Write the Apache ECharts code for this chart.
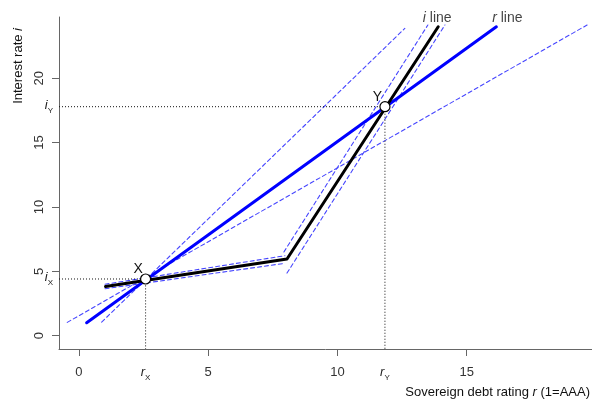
<!DOCTYPE html>
<html><head><meta charset="utf-8">
<script src="https://cdn.jsdelivr.net/npm/echarts@6/dist/echarts.min.js"></script>
<style>html,body{margin:0;padding:0;background:#fff}#c{width:592px;height:406px}</style>
</head><body><div id="c"></div>
<script>
// ---- data ----
const xTicks = [0, 5, 10, 15];
const yTicks = [0, 5, 10, 15, 20];
const eqNames = ['X', 'Y'];
const eqR = [2.58, 11.84];
const eqI = [4.40, 17.79];
const rLineR = [0.30, 16.15];
const rLineI = [1.00, 24.00];
const iLineR = [1.03, 8.05, 13.90];
const iLineI = [3.82, 5.95, 24.00];
const rBandSteepR = [0.88, 12.61];
const rBandSteepI = [1.05, 23.88];
const rBandFlatR = [-0.45, 19.66];
const rBandFlatI = [1.03, 24.14];
const iBand1UpR = [1.01, 7.97];
const iBand1UpI = [3.99, 6.21];
const iBand1LoR = [1.01, 7.97];
const iBand1LoI = [3.64, 5.62];
const iBand2UpR = [7.93, 13.50];
const iBand2UpI = [6.50, 24.14];
const iBand2LoR = [8.05, 14.16];
const iBand2LoI = [4.86, 24.14];
const lineNames = ['i line', 'r line'];
const xMin = -0.77, xMax = 19.85, yMin = -1.04, yMax = 24.76;

// ---- chart ----
const FONT = '"Liberation Sans", Arial, Helvetica, sans-serif';
const pairs = (rs, is) => rs.map((r, k) => [r, is[k]]);
const near = (a, b) => Math.abs(a - b) < 1e-6;
const bandStyle = { color: '#4646ff', width: 1.1, type: [4, 3] };

function lineSeries(data, style, z) {
  return { type: 'line', data, symbol: 'none', showSymbol: false, silent: true,
    lineStyle: Object.assign({ cap: 'round', join: 'round' }, style), z: z || 2, animation: false };
}

const subRich = {
  it: { fontStyle: 'italic', fontSize: 13, color: '#222', fontFamily: FONT, padding: [0, 0, 3, 0] },
  sub: { fontSize: 8, color: '#222', fontFamily: FONT, verticalAlign: 'bottom' }
};

const chart = echarts.init(document.getElementById('c'), null, { renderer: 'canvas' });
const option = {
  animation: false,
  backgroundColor: '#fff',
  textStyle: { fontFamily: FONT },
  grid: { left: 59, right: 0, top: 17, bottom: 57, containLabel: false, outerBoundsMode: 'none' },
  xAxis: [{
    type: 'value', min: xMin, max: xMax,
    axisLine: { show: true, onZero: false, lineStyle: { color: '#666', width: 1 } },
    axisTick: { show: true, length: 7, customValues: xTicks, lineStyle: { color: '#666' } },
    axisLabel: {
      customValues: xTicks.concat(eqR), margin: 17, color: '#333', fontSize: 13, fontFamily: FONT,
      formatter: v => { for (let k = 0; k < eqR.length; k++) if (near(v, eqR[k])) return '{it|r}{sub|' + eqNames[k] + '}'; return String(v); },
      rich: subRich
    },
    splitLine: { show: false }
  }],
  yAxis: [{
    type: 'value', min: yMin, max: yMax,
    axisLine: { show: true, onZero: false, lineStyle: { color: '#666', width: 1 } },
    axisTick: { show: true, length: 7, customValues: yTicks, lineStyle: { color: '#666' } },
    axisLabel: { customValues: yTicks, rotate: 90, margin: 13, color: '#333', fontSize: 13, fontFamily: FONT },
    splitLine: { show: false }
  }, {
    type: 'value', min: yMin, max: yMax, position: 'left', gridIndex: 0,
    axisLine: { show: false, onZero: false }, axisTick: { show: false }, splitLine: { show: false },
    axisLabel: {
      customValues: eqI, margin: 6, color: '#222',
      formatter: v => { for (let k = 0; k < eqI.length; k++) if (near(v, eqI[k])) return '{it|i}{sub|' + eqNames[k] + '}'; return ''; },
      rich: subRich
    }
  }],
  series: [
    lineSeries(pairs(rBandSteepR, rBandSteepI), bandStyle),
    lineSeries(pairs(rBandFlatR, rBandFlatI), bandStyle),
    lineSeries(pairs(iBand1UpR, iBand1UpI), bandStyle),
    lineSeries(pairs(iBand1LoR, iBand1LoI), bandStyle),
    lineSeries(pairs(iBand2UpR, iBand2UpI), bandStyle),
    lineSeries(pairs(iBand2LoR, iBand2LoI), bandStyle),
    lineSeries([[xMin, eqI[0]], [eqR[0], eqI[0]], [eqR[0], yMin]], { color: '#111', width: 1, type: [1, 2], cap: 'butt' }, 3),
    lineSeries([[xMin, eqI[1]], [eqR[1], eqI[1]], [eqR[1], yMin]], { color: '#111', width: 1, type: [1, 2], cap: 'butt' }, 3),
    lineSeries(pairs(rLineR, rLineI), { color: '#0000ff', width: 3 }, 4),
    lineSeries(pairs(iLineR, iLineI), { color: '#000000', width: 3 }, 5),
    {
      type: 'scatter', z: 6, silent: true, animation: false,
      data: eqNames.map((n, k) => ({ name: n, value: [eqR[k], eqI[k]] })),
      symbol: 'circle', symbolSize: 10,
      itemStyle: { color: '#fff', borderColor: '#000', borderWidth: 1.2, opacity: 1 },
      label: { show: true, position: 'inside', offset: [-7.5, -9.5], formatter: p => p.name,
        color: '#111', fontSize: 14, fontFamily: FONT }
    },
    {
      type: 'scatter', z: 7, silent: true, animation: false,
      data: [
        { name: lineNames[0], value: [iLineR[iLineR.length - 1], iLineI[iLineI.length - 1]], label: { offset: [-1, -8.5] } },
        { name: lineNames[1], value: [rLineR[rLineR.length - 1], rLineI[rLineI.length - 1]], label: { offset: [11, -8.5] } }
      ],
      symbol: 'circle', symbolSize: 0,
      itemStyle: { color: 'rgba(0,0,0,0)' },
      label: { show: true, position: 'inside', color: '#111', fontSize: 14, fontFamily: FONT,
        formatter: p => { const parts = p.name.split(' '); return '{it|' + parts[0] + '} ' + parts.slice(1).join(' '); },
        rich: { it: { fontStyle: 'italic', fontSize: 14, color: '#111', fontFamily: FONT } } }
    }
  ],
  graphic: [
    { type: 'text', x: 18.5, y: 28, rotation: Math.PI / 2, silent: true,
      style: { text: '{n|Interest rate }{it|i}', align: 'right', verticalAlign: 'middle',
        rich: { n: { fontSize: 13, fill: '#111', fontFamily: FONT }, it: { fontSize: 13, fill: '#111', fontStyle: 'italic', fontFamily: FONT } } } },
    { type: 'text', x: 590, y: 392, silent: true,
      style: { text: '{n|Sovereign debt rating }{it|r}{n| (1=AAA)}', align: 'right', verticalAlign: 'middle',
        rich: { n: { fontSize: 13, fill: '#111', fontFamily: FONT }, it: { fontSize: 13, fill: '#111', fontStyle: 'italic', fontFamily: FONT } } } }
  ]
};
chart.setOption(option);
</script>
</body></html>
